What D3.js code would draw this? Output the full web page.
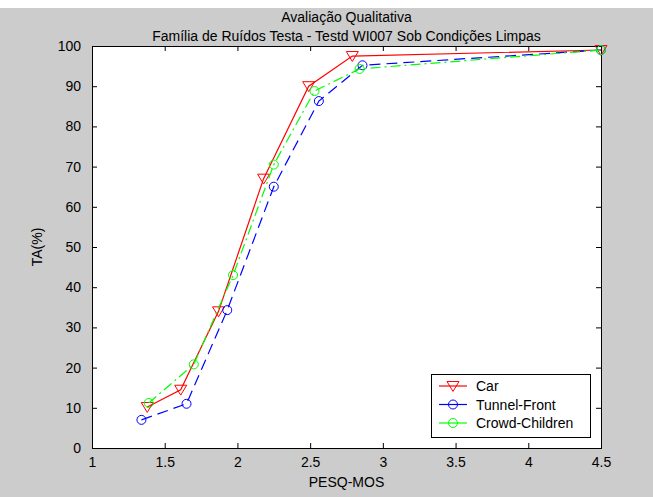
<!DOCTYPE html>
<html>
<head>
<meta charset="utf-8">
<script src="https://cdn.jsdelivr.net/npm/d3@7"></script>
<style>
  html, body { margin: 0; padding: 0; background: #cccccc; }
  svg { display: block; }
  text { font-family: "Liberation Sans", Arial, Helvetica, sans-serif; fill: #000; }
</style>
</head>
<body>
<svg id="chart" width="653" height="497"></svg>
<script>
// ---- data ----
const seriesNames = ["Car", "Tunnel-Front", "Crowd-Children"];
const carX    = [1.38, 1.61, 1.87, 2.18, 2.49, 2.79, 4.5];
const carY    = [10.2, 14.5, 34.0, 67.0, 90.0, 97.5, 99.0];
const tunnelX = [1.34, 1.65, 1.93, 2.25, 2.56, 2.86, 4.5];
const tunnelY = [7.0, 11.0, 34.3, 65.0, 86.3, 95.2, 99.0];
const crowdX  = [1.39, 1.70, 1.97, 2.25, 2.53, 2.84, 4.5];
const crowdY  = [11.2, 20.8, 43.0, 70.5, 88.8, 94.3, 99.0];
const xTicks = [1, 1.5, 2, 2.5, 3, 3.5, 4, 4.5];
const yTicks = [0, 10, 20, 30, 40, 50, 60, 70, 80, 90, 100];
const titleLines = ["Avaliação Qualitativa", "Família de Ruídos Testa - Testd WI007 Sob Condições Limpas"];
const xLabel = "PESQ-MOS";
const yLabel = "TA(%)";

const series = [
  { name: seriesNames[0], xs: carX, ys: carY, color: "#ff0000", dash: null, marker: "tri" },
  { name: seriesNames[1], xs: tunnelX, ys: tunnelY, color: "#0000ff", dash: "11,6", marker: "circle" },
  { name: seriesNames[2], xs: crowdX, ys: crowdY, color: "#00ff00", dash: "10,4,2,4", marker: "circle" }
];

const W = 653, H = 497;
const L = 92, R = 601, T = 46, B = 448;
const svg = d3.select("#chart");
svg.append("rect").attr("x", 0).attr("y", 0).attr("width", W).attr("height", H).attr("fill", "#cccccc");
svg.append("rect").attr("x", 0).attr("y", 0).attr("width", W).attr("height", 8).attr("fill", "#ffffff");

const x = d3.scaleLinear().domain([1, 4.5]).range([L, R]);
const y = d3.scaleLinear().domain([0, 100]).range([B, T]);

svg.append("rect").attr("x", L).attr("y", T).attr("width", R - L).attr("height", B - T).attr("fill", "#fff");

const tickLen = 5;
const fs = 14;
// bottom axis
const xb = d3.axisBottom(x).tickValues(xTicks).tickSize(-tickLen).tickPadding(9).tickFormat(d3.format("~g"));
svg.append("g").attr("transform", `translate(0,${B})`).call(xb)
  .call(g => { g.select(".domain").remove(); g.selectAll("line").attr("stroke", "#000");
               g.selectAll("text").attr("font-size", fs).attr("font-family", "Liberation Sans, Arial, sans-serif"); });
// top axis ticks
svg.append("g").attr("transform", `translate(0,${T})`).call(d3.axisTop(x).tickValues(xTicks).tickSize(-tickLen).tickFormat(""))
  .call(g => { g.select(".domain").remove(); g.selectAll("line").attr("stroke", "#000"); });
// left axis
const yl = d3.axisLeft(y).tickValues(yTicks).tickSize(-tickLen).tickPadding(11);
svg.append("g").attr("transform", `translate(${L},0)`).call(yl)
  .call(g => { g.select(".domain").remove(); g.selectAll("line").attr("stroke", "#000");
               g.selectAll("text").attr("font-size", fs).attr("font-family", "Liberation Sans, Arial, sans-serif"); });
// right axis ticks
svg.append("g").attr("transform", `translate(${R},0)`).call(d3.axisRight(y).tickValues(yTicks).tickSize(-tickLen).tickFormat(""))
  .call(g => { g.select(".domain").remove(); g.selectAll("line").attr("stroke", "#000"); });

// frame
svg.append("rect").attr("x", L + 0.5).attr("y", T + 0.5).attr("width", R - L).attr("height", B - T)
  .attr("fill", "none").attr("stroke", "#000").attr("stroke-width", 1);

const line = d3.line().x(d => x(d[0])).y(d => y(d[1]));
const plot = svg.append("g");

function drawMarker(g, type, cx, cy, color) {
  if (type === "tri") {
    const s = 6;
    g.append("path").attr("d", `M${cx - s},${cy - s * 0.75} L${cx + s},${cy - s * 0.75} L${cx},${cy + s * 0.9} Z`)
      .attr("fill", "none").attr("stroke", color).attr("stroke-width", 1);
  } else {
    g.append("circle").attr("cx", cx).attr("cy", cy).attr("r", 4.5)
      .attr("fill", "none").attr("stroke", color).attr("stroke-width", 1);
  }
}

series.forEach(s => {
  const pts = s.xs.map((v, i) => [v, s.ys[i]]);
  plot.append("path").datum(pts).attr("d", line).attr("fill", "none")
    .attr("stroke", s.color).attr("stroke-width", 1.2)
    .attr("stroke-dasharray", s.dash);
  pts.forEach(p => drawMarker(plot, s.marker, x(p[0]), y(p[1]), s.color));
});

// legend
const lg = svg.append("g");
const lx = 431, ly = 374, lw = 159, lh = 63;
lg.append("rect").attr("x", lx + 0.5).attr("y", ly + 0.5).attr("width", lw).attr("height", lh)
  .attr("fill", "#fff").attr("stroke", "#000");
series.forEach((s, i) => {
  const cy = ly + 12 + i * 18.5;
  lg.append("line").attr("x1", lx + 8).attr("x2", lx + 36).attr("y1", cy).attr("y2", cy)
    .attr("stroke", s.color).attr("stroke-width", 1.2);
  drawMarker(lg, s.marker, lx + 22, cy, s.color);
  lg.append("text").attr("x", lx + 45).attr("y", cy + 5).attr("font-size", fs).text(s.name);
});

// titles
svg.append("text").attr("x", (L + R) / 2).attr("y", 22).attr("text-anchor", "middle").attr("font-size", fs).text(titleLines[0]);
svg.append("text").attr("x", (L + R) / 2).attr("y", 41).attr("text-anchor", "middle").attr("font-size", fs).text(titleLines[1]);
svg.append("text").attr("x", (L + R) / 2).attr("y", 487).attr("text-anchor", "middle").attr("font-size", fs).text(xLabel);
svg.append("text").attr("transform", `translate(42,${(T + B) / 2}) rotate(-90)`).attr("text-anchor", "middle").attr("font-size", fs).text(yLabel);
</script>
</body>
</html>
